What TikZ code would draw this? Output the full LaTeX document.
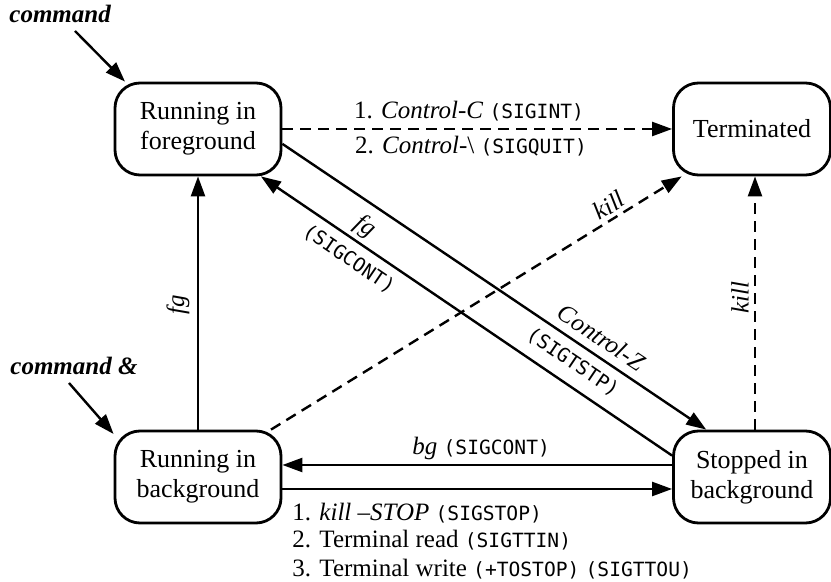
\documentclass[tikz,border=0pt]{standalone}
\usepackage{fontspec}
\setmainfont{Liberation Serif}
\setmonofont{DejaVu Sans Mono}
\usepackage{tikz}
\usetikzlibrary{arrows.meta, positioning, calc}
\newcommand{\signame}[1]{{\ttfamily\fontsize{9.8pt}{12pt}\selectfont #1}}

\begin{document}
\begin{tikzpicture}[x=0.5pt, y=-0.5pt,
  state/.style={draw, line width=1.4pt, rounded corners=12.5pt, align=center, inner sep=0pt,
    minimum height=46pt, font=\fontsize{13pt}{15pt}\selectfont},
  lbl/.style={font=\fontsize{12.5pt}{14pt}\selectfont, inner sep=2pt},
  trans/.style={line width=1.2pt, -{Triangle[length=10pt, width=7pt]}},
  back/.style={line width=1.2pt, {Triangle[length=10pt, width=7pt]}-},
  maybe/.style={trans, dash pattern=on 5.5pt off 3.5pt}]
\useasboundingbox (0,0) rectangle (831,582);

% job states
\node[state, minimum width=83pt] (fg) at (198,129) {Running in\\foreground};
\node[state, minimum width=78.5pt] (term) at (752,129) {Terminated};
\node[state, minimum width=83pt] (bg) at (198,477) {Running in\\background};
\node[state, minimum width=78.5pt] (stop) at (752,477) {Stopped in\\background};

% starting a job
\node[lbl, anchor=base west, inner sep=0pt, font=\fontsize{12.5pt}{14pt}\selectfont\bfseries\itshape] (cmd) at (9,23) {command};
\node[lbl, anchor=base west, inner sep=0pt, font=\fontsize{12.5pt}{14pt}\selectfont\bfseries\itshape] (cmdbg) at (10,375) {command \&};
\coordinate (cmdstart) at (75,31);
\coordinate (cmdbgstart) at (69,383);
\draw[trans] (cmdstart) -- (fg.147);
\draw[trans] (cmdbgstart) -- (bg.153);

% terminating signals
\draw[maybe] (fg.east) -- (term.west);
\node[lbl, anchor=base] (ctrlc) at (469,119) {1. \textit{Control-C} \signame{(SIGINT)}};
\node[lbl, anchor=base] (ctrlq) at (471,154) {2. \textit{Control-}\textbackslash{} \signame{(SIGQUIT)}};

\draw[trans] (bg.north) -- (fg.south);
\node[lbl, rotate=90] (fgup) at (178,305) {\textit{fg}};

\draw[trans] (fg.-10) -- node[lbl, sloped, above, pos=0.73, inner sep=4pt] (ctrlz) {\textit{Control-Z}}
  node[lbl, sloped, below, pos=0.71, inner sep=4.5pt] (tstp) {\signame{(SIGTSTP)}} (stop.134);
\draw[back] (fg.-37) -- node[lbl, sloped, above, pos=0.23] (fgcont) {\textit{fg}}
  node[lbl, sloped, below, pos=0.24, inner sep=4.5pt] (sigcont) {\signame{(SIGCONT)}} (stop.165);

\draw[maybe] (bg.33) -- node[lbl, sloped, above, pos=0.84] (killd) {\textit{kill}} (term.214);
\draw[maybe] ([xshift=1.5pt]stop.north) -- ([xshift=1.5pt]term.south);
\node[lbl, rotate=90] (killv) at (740,298) {\textit{kill}};

% background and stopped
\draw[back] ([yshift=6pt]bg.east) -- node[lbl, above, pos=0.51] (bgcont) {\textit{bg} \signame{(SIGCONT)}} ([yshift=6pt]stop.west);
\draw[trans] ([yshift=-6pt]bg.east) -- ([yshift=-6pt]stop.west);
\node[lbl, anchor=base west, inner sep=0pt] (sstop) at (292,521) {1. \textit{kill --STOP} \signame{(SIGSTOP)}};
\node[lbl, anchor=base west, inner sep=0pt] (ttin) at (292,548) {2. Terminal read \signame{(SIGTTIN)}};
\node[lbl, anchor=base west, inner sep=0pt] (ttou) at (292,577) {3. Terminal write \signame{(+TOSTOP)} \signame{(SIGTTOU)}};

\end{tikzpicture}
\end{document}
